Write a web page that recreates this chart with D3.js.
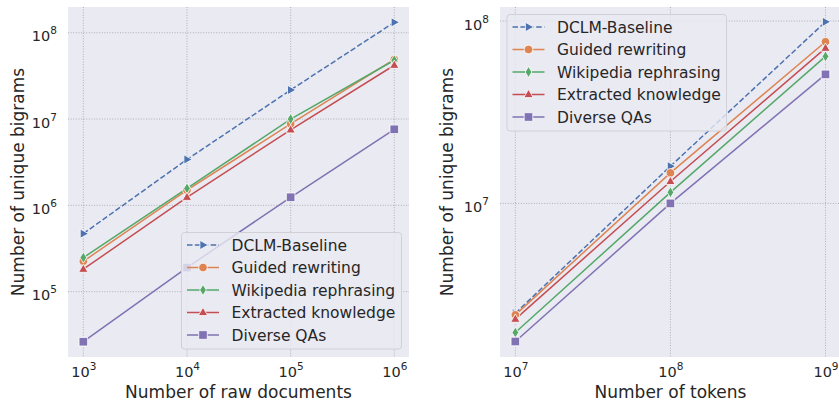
<!DOCTYPE html>
<html>
<head>
<meta charset="utf-8">
<script src="https://cdn.jsdelivr.net/npm/d3@7"></script>
<style>
  html, body { margin: 0; padding: 0; background: #fff; }
  svg { display: block; font-family: "DejaVu Sans", sans-serif; }
</style>
</head>
<body>
<div id="chart"></div>
<script>
// series names, colours and marker kinds
const seriesNames = ["DCLM-Baseline", "Guided rewriting", "Wikipedia rephrasing", "Extracted knowledge", "Diverse QAs"];
const seriesColors = ["#4C72B0", "#DD8452", "#55A868", "#C44E52", "#8172B3"];
const seriesMarkers = ["tri-right", "circle", "thin-diamond", "tri-up", "square"];

// left panel: number of raw documents
const docsX = [1e3, 1e4, 1e5, 1e6];
const docsDCLM = [4.7e5, 3.4e6, 2.17e7, 1.32e8];
const docsGuided = [2.25e5, 1.5e6, 8.8e6, 4.9e7];
const docsWiki = [2.48e5, 1.57e6, 1.0e7, 4.8e7];
const docsExtracted = [1.82e5, 1.24e6, 7.5e6, 4.2e7];
const docsQA = [2.63e4, 1.9e5, 1.24e6, 7.6e6];

// right panel: number of tokens
const tokX = [1e7, 1e8, 1e9];
const tokDCLM = [2.5e6, 1.6e7, 9.9e7];
const tokGuided = [2.45e6, 1.47e7, 7.7e7];
const tokWiki = [1.96e6, 1.15e7, 6.4e7];
const tokExtracted = [2.32e6, 1.32e7, 7.1e7];
const tokQA = [1.75e6, 1.0e7, 5.1e7];

const docsXTicks = [1e3, 1e4, 1e5, 1e6];
const docsYTicks = [1e5, 1e6, 1e7, 1e8];
const tokXTicks = [1e7, 1e8, 1e9];
const tokYTicks = [1e7, 1e8];

const W = 839, H = 402;
const textColor = "#262626";

const svg = d3.select("#chart").append("svg")
  .attr("width", W).attr("height", H);

function markerPath(kind, s) {
  switch (kind) {
    case "circle": return d3.symbol(d3.symbolCircle, s * s * Math.PI / 4)();
    case "square": return d3.symbol(d3.symbolSquare, s * s)();
    case "tri-up": { const r = s * 0.6; return `M0,${-r}L${r * 0.9},${r * 0.6}L${-r * 0.9},${r * 0.6}Z`; }
    case "tri-right": { const r = s * 0.6; return `M${r},0L${-r * 0.6},${r * 0.9}L${-r * 0.6},${-r * 0.9}Z`; }
    case "thin-diamond": { const r = s * 0.64; return `M0,${-r}L${r * 0.6},0L0,${r}L${-r * 0.6},0Z`; }
  }
}

function powLabel(sel, v) {
  const e = Math.round(Math.log10(v));
  sel.text(null);
  sel.append("tspan").text("10");
  sel.append("tspan").attr("dy", -7).attr("font-size", 10.5).text(e);
}

function panel(opts) {
  const { left, right, top, bottom, xDomain, yDomain, xTicks, yTicks, xs, ys, xLabel, yLabelX, legend } = opts;
  const g = svg.append("g");
  const clipId = "clip" + Math.floor(Math.random() * 1e6);
  g.append("clipPath").attr("id", clipId).append("rect")
    .attr("x", left).attr("y", top).attr("width", right - left).attr("height", bottom - top);

  const x = d3.scaleLog().domain(xDomain).range([left, right]);
  const y = d3.scaleLog().domain(yDomain).range([bottom, top]);

  g.append("rect").attr("x", left).attr("y", top)
    .attr("width", right - left).attr("height", bottom - top).attr("fill", "#EAEAF2");

  // grid
  const grid = g.append("g").attr("clip-path", `url(#${clipId})`)
    .attr("stroke", "#a8a8b0").attr("stroke-width", 0.9).attr("stroke-dasharray", "1,1.6");
  grid.selectAll("line.gx").data(xTicks).join("line").attr("class", "gx")
    .attr("x1", d => x(d)).attr("x2", d => x(d)).attr("y1", top).attr("y2", bottom);
  grid.selectAll("line.gy").data(yTicks).join("line").attr("class", "gy")
    .attr("y1", d => y(d)).attr("y2", d => y(d)).attr("x1", left).attr("x2", right);

  // axes
  const xAxis = g.append("g").attr("transform", `translate(0,${bottom})`)
    .call(d3.axisBottom(x).tickValues(xTicks).tickSize(0).tickPadding(20));
  const yAxis = g.append("g").attr("transform", `translate(${left},0)`)
    .call(d3.axisLeft(y).tickValues(yTicks).tickSize(0).tickPadding(11));
  [xAxis, yAxis].forEach(a => {
    a.select(".domain").remove();
    a.selectAll("text").attr("font-size", 14.5).attr("fill", textColor)
      .attr("font-family", "DejaVu Sans").each(function (d) { powLabel(d3.select(this), d); });
  });
  xAxis.selectAll("text").attr("dy", 0);
  yAxis.selectAll("text").attr("dy", "0.55em");

  const visRight = Math.min(right, W);
  g.append("text").attr("x", (left + right) / 2 + (right > W ? -(right - visRight) / 2 + (right - visRight) / 2 : 0)).attr("y", 398)
    .attr("text-anchor", "middle").attr("font-size", 17).attr("fill", textColor).text(xLabel);
  g.append("text").attr("transform", `translate(${yLabelX},${(top + bottom) / 2}) rotate(-90)`)
    .attr("text-anchor", "middle").attr("font-size", 17).attr("fill", textColor).text("Number of unique bigrams");

  // lines
  const line = d3.line().x(d => x(d[0])).y(d => y(d[1]));
  const plot = g.append("g").attr("clip-path", `url(#${clipId})`);
  ys.forEach((vals, i) => {
    const pts = xs.map((xv, j) => [xv, vals[j]]);
    plot.append("path").datum(pts).attr("d", line).attr("fill", "none")
      .attr("stroke", seriesColors[i]).attr("stroke-width", 1.5)
      .attr("stroke-dasharray", i === 0 ? "5.5,2.4" : null);
  });
  ys.forEach((vals, i) => {
    plot.selectAll(null).data(xs.map((xv, j) => [xv, vals[j]])).join("path")
      .attr("transform", d => `translate(${x(d[0])},${y(d[1])})`)
      .attr("d", markerPath(seriesMarkers[i], 8.6))
      .attr("fill", seriesColors[i]).attr("stroke", "#fff").attr("stroke-width", 0.8);
  });

  // legend
  const lg = g.append("g").attr("transform", `translate(${legend.x},${legend.y})`);
  lg.append("rect").attr("width", legend.w).attr("height", legend.h).attr("rx", 3)
    .attr("fill", "#EAEAF2").attr("fill-opacity", 0.8).attr("stroke", "#d0d0d6").attr("stroke-width", 1);
  seriesNames.forEach((name, i) => {
    const ry = 12.5 + i * 22.5;
    lg.append("line").attr("x1", 5.5).attr("x2", 37.5).attr("y1", ry).attr("y2", ry)
      .attr("stroke", seriesColors[i]).attr("stroke-width", 1.5)
      .attr("stroke-dasharray", i === 0 ? "5.5,2.4" : null);
    lg.append("path").attr("transform", `translate(21.5,${ry})`)
      .attr("d", markerPath(seriesMarkers[i], 8.6))
      .attr("fill", seriesColors[i]).attr("stroke", "#fff").attr("stroke-width", 0.8);
    lg.append("text").attr("x", 50).attr("y", ry).attr("dy", "0.36em")
      .attr("font-size", 15.5).attr("fill", textColor).text(name);
  });
}

panel({
  left: 68, right: 409, top: 7, bottom: 357,
  xDomain: [Math.pow(10, 2.852), Math.pow(10, 6.142)],
  yDomain: [Math.pow(10, 4.243), Math.pow(10, 8.298)],
  xTicks: docsXTicks, yTicks: docsYTicks,
  xs: docsX, ys: [docsDCLM, docsGuided, docsWiki, docsExtracted, docsQA],
  xLabel: "Number of raw documents", yLabelX: 24,
  legend: { x: 181.5, y: 232.5, w: 220, h: 116.5 }
});

panel({
  left: 500, right: 841, top: 7, bottom: 357,
  xDomain: [Math.pow(10, 6.901), Math.pow(10, 9.1)],
  yDomain: [Math.pow(10, 6.158), Math.pow(10, 8.077)],
  xTicks: tokXTicks, yTicks: tokYTicks,
  xs: tokX, ys: [tokDCLM, tokGuided, tokWiki, tokExtracted, tokQA],
  xLabel: "Number of tokens", yLabelX: 453,
  legend: { x: 507, y: 14.5, w: 219.5, h: 116.5 }
});
</script>
</body>
</html>
